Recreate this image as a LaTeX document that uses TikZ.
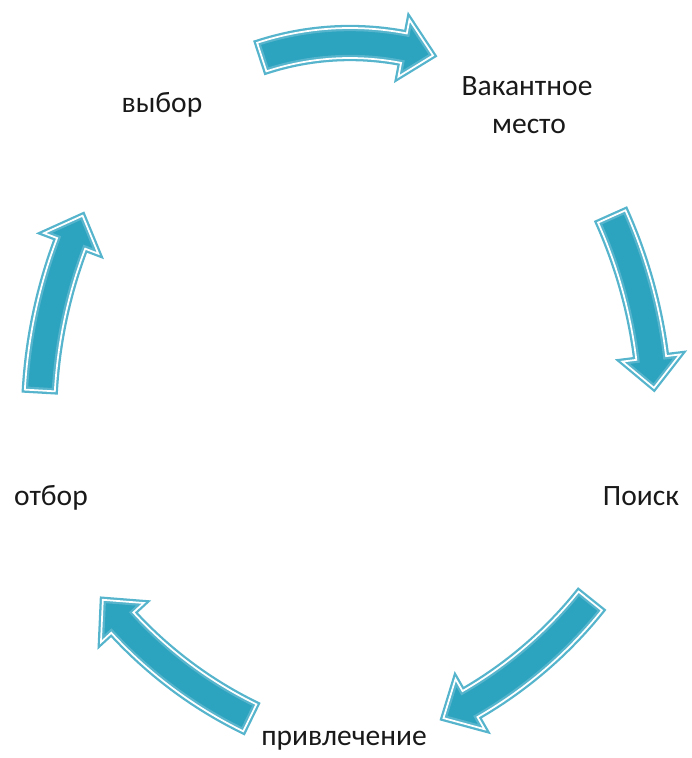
\documentclass[tikz,border=0pt]{standalone}
\usepackage{fontspec}
\setmainfont{Carlito}
\usepackage{tikz}
\definecolor{cycleblue}{RGB}{44,163,191}
\newcommand\cyclearrow[4]{%
  \pgfmathsetmacro\headang{#4-30/#2*57.2958}
  \draw[arrowline, shift={#1}] ({#3}:{#2+15}) arc[start angle=#3, end angle=\headang, radius=#2+15]
    -- ({\headang}:{#2+29}) -- ({#4}:{#2}) -- ({\headang}:{#2-29}) -- ({\headang}:{#2-15})
    arc[start angle=\headang, end angle=#3, radius=#2-15] -- cycle;
}

\begin{document}
\begin{tikzpicture}[x=0.02cm, y=-0.02cm,
    arrowline/.style={white, line width=1pt,
      preaction={fill=cycleblue, draw=cycleblue!80!white, line width=3.6pt}},
    steptext/.style={font=\fontsize{16.8}{23}\selectfont, text=black!90, anchor=base}]
    \useasboundingbox (0,0) rectangle (692,758);

    \cyclearrow{(350,327)}{284}{-108.1}{-73}
    \cyclearrow{(159,419)}{496}{-24.1}{-3.6}
    \cyclearrow{(257,334)}{427}{38.7}{64.1}
    \cyclearrow{(437,334)}{427}{116}{141.5}
    \cyclearrow{(535,419)}{496}{183.3}{204.2}

    \node[steptext] (vacancy) at (527,95) {Вакантное};
    \node[steptext] (place) at (529,133) {место};
    \node[steptext] (search) at (641,505) {Поиск};
    \node[steptext] (attract) at (344,745) {привлечение};
    \node[steptext] (screen) at (51,505) {отбор};
    \node[steptext] (choice) at (162,112) {выбор};
\end{tikzpicture}
\end{document}
